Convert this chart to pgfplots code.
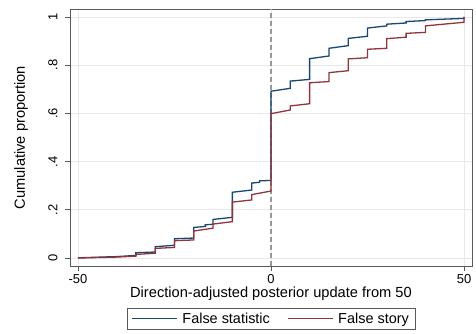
\documentclass[border=0pt]{standalone}
\usepackage{pgfplots}
\pgfplotsset{compat=1.18}
\usepackage{fontspec}
\setmainfont{Liberation Sans}
\definecolor{snavy}{RGB}{26,71,111}
\definecolor{smaroon}{RGB}{144,53,59}
\definecolor{framec}{RGB}{90,90,90}
\pgfplotsset{
  legend image code/.code={\draw[#1] (0bp,0bp) -- (45bp,0bp); \path (48bp,0bp);},
}
\begin{document}
\begin{tikzpicture}
\useasboundingbox (-70bp,-68bp) rectangle (406bp,266bp);
\begin{axis}[
  at={(0,0)}, anchor=south west,
  scale only axis, width=402bp, height=257bp,
  xmin=-52.07, xmax=52.07, ymin=-0.033, ymax=1.033,
  xtick={-50,0,50},
  ytick={0,0.2,0.4,0.6,0.8,1},
  yticklabels={0,.2,.4,.6,.8,1},
  /pgf/number format/assume math mode=true,
  tick align=outside, tick pos=left, major tick length=5bp,
  tick style={framec, line width=0.8bp},
  axis line style={framec, line width=0.9bp},
  grid=major, major grid style={color=black!9, line width=0.8bp},
  ticklabel style={font=\fontsize{13}{15}\selectfont},
  yticklabel style={rotate=90, anchor=south, yshift=4bp},
  xlabel={Direction-adjusted posterior update from 50},
  ylabel={Cumulative proportion},
  label style={font=\fontsize{14.7}{17}\selectfont},
  xlabel style={at={(axis description cs:0.5,0)}, anchor=center, yshift=-28bp},
  ylabel style={at={(axis description cs:-0.1219,0.5)}, anchor=center},
  legend columns=2,
  legend style={at={(0.5,0)}, anchor=north, yshift=-42bp, draw=framec,
    font=\fontsize{14.5}{16}\selectfont, inner xsep=4bp, inner ysep=2.5bp,
    /tikz/every even column/.append style={column sep=15bp}},
]
\addplot[gray!80, dashed, line width=1.2bp, dash pattern=on 5bp off 3bp, forget plot] coordinates {(0,-0.033) (0,1.033)};
\addplot[snavy, line width=1.3bp] coordinates {
(-50,0.001) (-40,0.006) (-35,0.011) (-35,0.022) (-30,0.025) (-30,0.047) (-25,0.053)
(-25,0.080) (-20,0.083) (-20,0.127) (-17,0.131) (-17,0.138) (-15,0.140) (-15,0.160)
(-10,0.169) (-10,0.273) (-5,0.282) (-5,0.311) (-3,0.314) (-3,0.320) (0,0.322)
(0,0.692) (5,0.704) (5,0.734) (10,0.741) (10,0.827) (15,0.838) (15,0.870)
(20,0.881) (20,0.911) (25,0.920) (25,0.954) (30,0.963) (30,0.970) (35,0.975)
(35,0.981) (40,0.985) (40,0.988) (50,0.994) (50,1.0)
};
\addlegendentry{False statistic}
\addplot[smaroon, line width=1.3bp] coordinates {
(-50,0.0) (-40,0.004) (-35,0.008) (-35,0.015) (-30,0.020) (-30,0.040) (-25,0.044)
(-25,0.072) (-20,0.075) (-20,0.112) (-15,0.124) (-15,0.141) (-10,0.151)
(-10,0.232) (-5,0.241) (-5,0.263) (0,0.278)
(0,0.599) (5,0.614) (5,0.631) (10,0.640) (10,0.727) (15,0.732) (15,0.769)
(20,0.777) (20,0.826) (25,0.831) (25,0.866) (30,0.870) (30,0.910) (35,0.916)
(35,0.932) (40,0.936) (40,0.963) (50,0.978) (50,1.0)
};
\addlegendentry{False story}
\end{axis}
\end{tikzpicture}
\end{document}
